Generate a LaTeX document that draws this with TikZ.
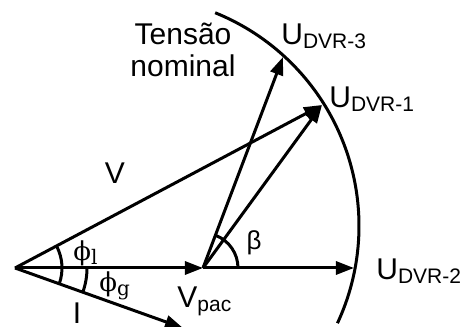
\documentclass[tikz,border=0pt]{standalone}
\usepackage{fontspec}
\setmainfont{Liberation Sans}
\newfontfamily\greekserif{DejaVu Serif}
\usetikzlibrary{arrows.meta}
\newcommand{\dvr}[1]{U\raisebox{-2pt}{\fontsize{10.5}{12}\selectfont DVR-#1}}
\newcommand{\phisub}[1]{{\greekserif ϕ}\raisebox{-2pt}{\fontsize{10}{12}\selectfont\greekserif #1}}
\tikzset{
phasor/.style={line width=1.5pt, -{Triangle[length=9pt,width=6.5pt]}},
anglearc/.style={line width=1.5pt},
lbl/.style={font=\fontsize{15}{16}\selectfont, inner sep=0pt},
greek/.style={font=\fontsize{13}{16}\selectfont, inner sep=0pt}}
\begin{document}
\begin{tikzpicture}[x=0.5pt, y=0.5pt]
\useasboundingbox (0,0) rectangle (468,327);
\coordinate (O) at (15,59);
\coordinate (pac) at (203,59);
\coordinate (dvr1) at (322,222);
\coordinate (dvr2) at (354,59);
\coordinate (dvr3) at (283,270);
\coordinate (I) at (183,-1);
% nominal voltage
\draw[line width=1.5pt] (129,101) ++(68:115pt) arc[start angle=68, end angle=-25, radius=115pt];
\node[lbl, align=center] (nominal) at (183,277) {Tensão\\nominal};
% phasors
\draw[phasor] (O) -- (pac);
\draw[phasor] (O) -- (dvr1);
\draw[phasor] (O) -- (I);
\draw[phasor] (pac) -- (dvr1);
\draw[phasor] (pac) -- (dvr2);
\draw[phasor] (pac) -- (dvr3);
% angles
\draw[anglearc] (O) ++(-19.6:23.5pt) arc[start angle=-19.6, end angle=28, radius=23.5pt];
\draw[anglearc] (O) ++(0:36pt) arc[start angle=0, end angle=-19.6, radius=36pt];
\draw[anglearc] (pac) ++(0:17.5pt) arc[start angle=0, end angle=69, radius=17.5pt];
% labels
\node[lbl] (vlbl) at (115,154) {V};
\node[lbl, anchor=base] (ilbl) at (77,3) {I};
\node[lbl, anchor=base west] (pacl) at (177,19) {V\raisebox{-2pt}{\fontsize{10.5}{12}\selectfont pac}};
\node[lbl, anchor=base west] (u1) at (329,219) {\dvr{1}};
\node[lbl, anchor=base west] (u2) at (376,47) {\dvr{2}};
\node[lbl, anchor=base west] (u3) at (281,282) {\dvr{3}};
\node[greek, anchor=base west] (phil) at (73,66) {\phisub{l}};
\node[greek, anchor=base west] (phig) at (99,35) {\phisub{g}};
\node[greek] (beta) at (254,84) {β};
\end{tikzpicture}
\end{document}
